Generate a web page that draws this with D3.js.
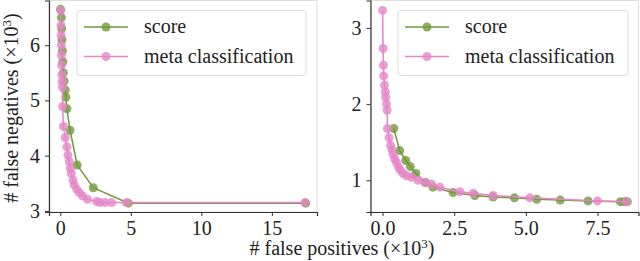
<!DOCTYPE html>
<html>
<head>
<meta charset="UTF-8">
</head>
<body style="margin:0">
<svg id="chart" width="640" height="261"></svg>
<script src="https://cdn.jsdelivr.net/npm/d3@7"></script>
<script>
// left panel: (false positives, false negatives) in thousands
const leftScore = [
  [0.02, 6.65], [0.08, 6.5], [0.1, 6.3], [0.12, 6.1], [0.15, 5.9], [0.18, 5.7],
  [0.22, 5.5], [0.28, 5.35], [0.35, 5.19], [0.4, 5.06], [0.47, 4.85], [0.69, 4.46],
  [1.2, 3.83], [2.34, 3.42], [4.82, 3.14], [17.4, 3.14]
];
const leftMeta = [
  [0.03, 6.63], [0.05, 6.36], [0.06, 6.18], [0.07, 6.0], [0.08, 5.82], [0.09, 5.64],
  [0.11, 5.46], [0.13, 5.34], [0.15, 5.24], [0.17, 4.89], [0.22, 4.53], [0.35, 4.33],
  [0.47, 4.16], [0.54, 4.01], [0.64, 3.89], [0.71, 3.77], [0.78, 3.68], [0.9, 3.56],
  [0.99, 3.47], [1.17, 3.39], [1.35, 3.33], [1.59, 3.27], [1.92, 3.21], [2.58, 3.17],
  [2.81, 3.15], [3.17, 3.15], [3.64, 3.15], [4.7, 3.15], [17.35, 3.15]
];
// right panel
const rightScore = [
  [0.39, 1.68], [0.6, 1.39], [0.81, 1.26], [0.97, 1.18], [1.16, 1.09], [1.51, 0.97],
  [1.76, 0.91], [2.46, 0.84], [3.22, 0.8], [3.86, 0.78], [4.6, 0.77], [5.38, 0.75],
  [6.2, 0.74], [7.17, 0.73], [8.3, 0.72], [8.44, 0.72], [8.54, 0.72]
];
const rightMeta = [
  [0.0, 3.23], [0.02, 2.73], [0.03, 2.51], [0.04, 2.37], [0.07, 2.25], [0.1, 2.16],
  [0.11, 2.09], [0.14, 2.0], [0.16, 1.92], [0.17, 1.68], [0.23, 1.56], [0.28, 1.46],
  [0.33, 1.4], [0.37, 1.34], [0.43, 1.28], [0.49, 1.23], [0.56, 1.17], [0.63, 1.13],
  [0.72, 1.09], [0.84, 1.06], [1.01, 1.04], [1.24, 1.0], [1.47, 0.97], [1.71, 0.95],
  [2.0, 0.91], [2.7, 0.85], [3.16, 0.83], [3.86, 0.8], [5.14, 0.77], [7.5, 0.73], [8.5, 0.72]
];
const leftXTicks = [0, 5, 10, 15], leftYTicks = [3, 4, 5, 6];
const rightXTicks = [0, 2.5, 5, 7.5], rightYTicks = [1, 2, 3];
const seriesNames = ["score", "meta classification"];

const FONT = "'Liberation Serif', 'DejaVu Serif', serif";
const FS = 20;
const green = "#71993a", pink = "#e586c8";
const svg = d3.select("#chart");

// serif everywhere, forced inline
function serif(sel, size) {
  sel.style("font-family", FONT, "important");
  if (size) sel.style("font-size", size + "px", "important");
  return sel;
}

function panel(opts) {
  const x = d3.scaleLinear().domain(opts.xDom).range([opts.x0, opts.x1]);
  const y = d3.scaleLinear().domain(opts.yDom).range([opts.y1, opts.y0]);
  const g = svg.append("g");

  // light frame on top/right, dark axes left/bottom
  g.append("rect").attr("x", opts.x0).attr("y", opts.y0)
    .attr("width", opts.x1 - opts.x0).attr("height", opts.y1 - opts.y0)
    .attr("fill", "none").attr("stroke", "#ddd").attr("stroke-width", 1);

  const xa = g.append("g").attr("transform", `translate(0,${opts.y1})`)
    .call(d3.axisBottom(x).tickValues(opts.xTicks).tickSize(4).tickPadding(5).tickFormat(opts.xFmt));
  const ya = g.append("g").attr("transform", `translate(${opts.x0},0)`)
    .call(d3.axisLeft(y).tickValues(opts.yTicks).tickSize(4).tickPadding(5).tickFormat(d3.format("d")));
  [xa, ya].forEach(a => {
    a.attr("font-family", null).attr("font-size", null);
    a.select(".domain").attr("stroke", "#333").attr("stroke-width", 1.2);
    a.selectAll(".tick line").attr("stroke", "#333");
    serif(a.selectAll("text").attr("fill", "#222"), FS);
  });

  const line = d3.line().x(d => x(d[0])).y(d => y(d[1]));
  [[opts.score, green], [opts.meta, pink]].forEach(([data, col]) => {
    g.append("path").datum(data).attr("d", line)
      .attr("fill", "none").attr("stroke", col).attr("stroke-width", 1.5);
    g.append("g").selectAll("circle").data(data).join("circle")
      .attr("cx", d => x(d[0])).attr("cy", d => y(d[1])).attr("r", 4.5)
      .attr("fill", col).attr("fill-opacity", 0.8);
  });

  // legend
  const lg = g.append("g").attr("transform", `translate(${opts.legX},${opts.legY})`);
  lg.append("rect").attr("width", opts.legW).attr("height", 65).attr("rx", 3)
    .attr("fill", "#fff").attr("fill-opacity", 0.8).attr("stroke", "#ddd");
  [green, pink].forEach((col, i) => {
    const cy = 16.5 + i * 29.5;
    lg.append("line").attr("x1", 7).attr("x2", 51).attr("y1", cy).attr("y2", cy)
      .attr("stroke", col).attr("stroke-width", 1.5);
    lg.append("circle").attr("cx", 29).attr("cy", cy).attr("r", 4.5)
      .attr("fill", col).attr("fill-opacity", 0.8);
    serif(lg.append("text").attr("x", 67).attr("y", cy).attr("dy", "0.32em")
      .attr("fill", "#222").text(seriesNames[i]), FS);
  });
}

panel({
  x0: 49, x1: 317, y0: 0.5, y1: 212,
  xDom: [-0.8, 18.2], yDom: [2.98, 6.81],
  xTicks: leftXTicks, yTicks: leftYTicks, xFmt: d3.format("d"),
  score: leftScore, meta: leftMeta,
  legX: 77, legY: 10.5, legW: 229
});
panel({
  x0: 370.5, x1: 638.5, y0: 0.5, y1: 212,
  xDom: [-0.42, 8.93], yDom: [0.584, 3.36],
  xTicks: rightXTicks, yTicks: rightYTicks, xFmt: d3.format(".1f"),
  score: rightScore, meta: rightMeta,
  legX: 398, legY: 10.5, legW: 230
});

// axis titles
function axisLabel(sel, txt) {
  serif(sel.attr("text-anchor", "middle").attr("fill", "#222"), FS);
  serif(sel.append("tspan").text(txt + " (×10"), FS);
  serif(sel.append("tspan").attr("dy", -7).text("3"), 13);
  serif(sel.append("tspan").attr("dy", 7).text(")"), FS);
}
axisLabel(svg.append("text").attr("x", 342).attr("y", 255), "# false positives");
axisLabel(svg.append("text").attr("transform", "translate(18,108) rotate(-90)"), "# false negatives");
</script>
</body>
</html>
